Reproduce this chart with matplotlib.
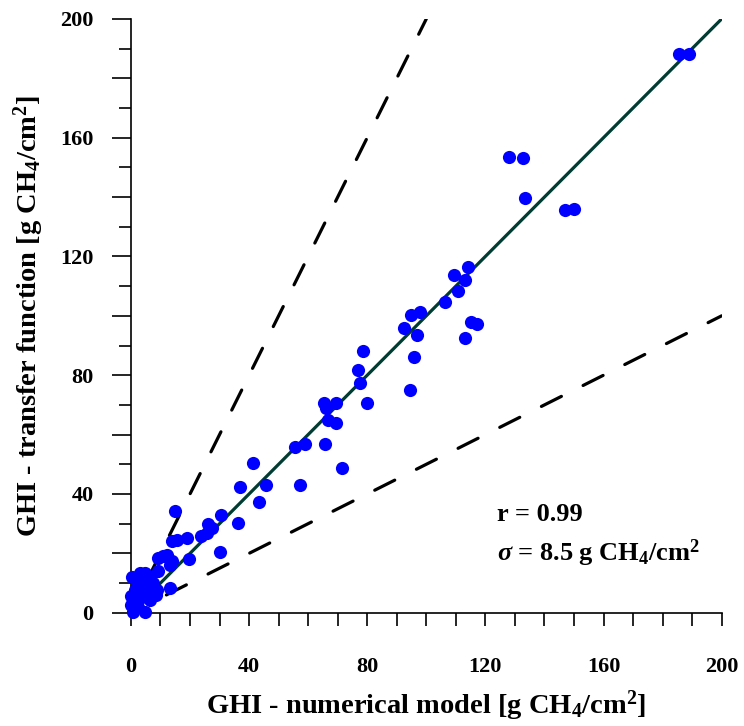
"""Scatter of GHI: transfer function vs numerical model."""

import matplotlib
matplotlib.use("Agg")
import matplotlib.pyplot as plt
from matplotlib.ticker import MultipleLocator, FuncFormatter

# GHI from the numerical model (x) and the transfer function (y), g CH4/cm2
ghi_model = [
    185.5, 188.8,
    127.9, 132.7, 133.3, 146.9, 149.9,
    114.1, 109.3, 113.0, 110.8, 106.4, 98.0, 94.8, 92.5, 96.9, 95.8, 94.4,
    115.0, 117.3, 113.1,
    78.6, 76.9, 77.5, 80.0, 69.4, 65.4, 66.2, 66.6, 69.3, 59.0, 55.4, 65.8,
    71.3, 41.3, 36.9, 45.8, 57.2, 43.3,
    15.0, 30.4, 36.4, 26.2, 27.3, 23.7, 25.6, 19.0, 15.5, 13.8, 30.1, 19.6,
    12.1, 9.2, 13.8, 13.2, 10.9,
    9.2, 13.2, 0.2, 3.0, 4.7, 6.4, 7.5, 3.0, 1.4, 5.3, 8.7, 0.0, 3.0, 6.4,
    0.0, 2.4, 0.7, 4.7, 7.5, 1.5, 2.0, 4.0, 5.5, 8.5,
]
ghi_transfer = [
    188.2, 188.2,
    153.5, 153.2, 139.7, 135.7, 136.0,
    116.6, 113.6, 112.1, 108.2, 104.5, 101.3, 100.3, 96.0, 93.6, 86.2, 75.1,
    98.0, 97.4, 92.5,
    88.2, 81.6, 77.3, 70.6, 70.8, 70.8, 68.9, 65.0, 63.9, 56.9, 55.7, 56.8,
    48.7, 50.4, 42.3, 43.1, 43.1, 37.4,
    34.4, 32.8, 30.2, 29.9, 28.7, 26.0, 27.0, 25.1, 24.6, 24.0, 20.6, 18.1,
    19.5, 18.4, 17.3, 16.2, 19.0,
    13.9, 8.2, 12.2, 13.4, 13.5, 11.8, 10.1, 10.1, 7.7, 7.7, 7.7, 5.5, 5.0, 4.4,
    2.7, 2.1, 0.4, 0.4, 8.9, 3.5, 9.0, 6.0, 10.5, 6.0,
]

r_value = 0.99
sigma_value = 8.5

plt.rcParams['font.family'] = ['Liberation Serif', 'DejaVu Serif']
plt.rcParams['font.weight'] = 'bold'
plt.rcParams['mathtext.fontset'] = 'custom'
plt.rcParams['mathtext.rm'] = 'Liberation Serif:bold'
plt.rcParams['mathtext.it'] = 'Liberation Serif:italic:bold'
plt.rcParams['mathtext.bf'] = 'Liberation Serif:bold'

fig = plt.figure(figsize=(7.44, 7.26), dpi=100)
ax = fig.add_axes([0.176, 0.156, 0.794, 0.818])

# 1:1 line and factor-of-two bounds
ax.plot([0, 200], [0, 200], color='#003c32', lw=2.3, zorder=2)
ax.plot([6, 100], [12, 200], color='black', lw=2.3, dashes=(7.0, 7.6),
        dash_capstyle='round', zorder=2)
ax.plot([12, 200], [6, 100], color='black', lw=2.3, dashes=(7.0, 7.6),
        dash_capstyle='round', zorder=2)

ax.scatter(ghi_model, ghi_transfer, s=90, color='#0000ff', lw=0,
           zorder=3, clip_on=False)

ax.set_xlim(0, 200)
ax.set_ylim(0, 200)
ax.xaxis.set_major_locator(MultipleLocator(40))
ax.xaxis.set_minor_locator(MultipleLocator(10))
# long y ticks every 20, labelled every 40, short ticks every 10
ax.yaxis.set_major_locator(MultipleLocator(20))
ax.yaxis.set_minor_locator(MultipleLocator(10))
ax.yaxis.set_major_formatter(
    FuncFormatter(lambda v, p: f'{v:.0f}' if round(v) % 40 == 0 else ''))

for side in ['top', 'right']:
    ax.spines[side].set_visible(False)
for side in ['left', 'bottom']:
    ax.spines[side].set_linewidth(1.2)

ax.tick_params(axis='x', which='both', direction='out', length=9, width=1.2,
               pad=23, labelsize=16)
ax.tick_params(axis='y', which='major', direction='out', length=14, width=1.2,
               pad=13, labelsize=16)
ax.tick_params(axis='y', which='minor', direction='out', length=9, width=1.2)

ax.set_xlabel(r'GHI - numerical model [g CH$_4$/cm$^2$]', fontsize=20.5,
              fontweight='bold', labelpad=8)
ax.set_ylabel(r'GHI - transfer function [g CH$_4$/cm$^2$]', fontsize=20.5,
              fontweight='bold', labelpad=10)

ax.text(124, 33, f'r = {r_value:.2f}', fontsize=19, fontweight='bold',
        va='center', ha='left')
ax.text(124, 20, rf'$\sigma$ = {sigma_value} g CH$_4$/cm$^2$', fontsize=19,
        fontweight='bold', va='center', ha='left')

fig.savefig('out.png', dpi=100)
